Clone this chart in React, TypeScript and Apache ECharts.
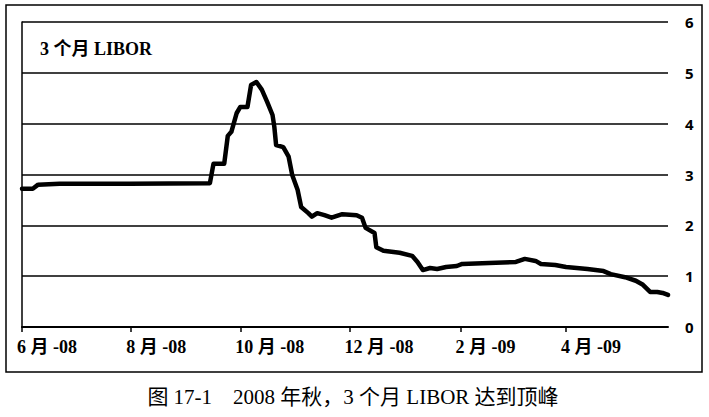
import React, { useEffect, useRef } from "react";
import * as echarts from "echarts";

const dates: string[] = [
  "2008-06-01", "2008-06-07", "2008-06-10", "2008-06-22", "2008-07-31",
  "2008-09-14", "2008-09-16", "2008-09-22", "2008-09-24", "2008-09-26",
  "2008-09-29", "2008-10-01", "2008-10-05", "2008-10-07", "2008-10-10",
  "2008-10-13", "2008-10-16", "2008-10-19", "2008-10-20", "2008-10-21",
  "2008-10-25", "2008-10-28", "2008-10-30", "2008-11-02", "2008-11-04",
  "2008-11-08", "2008-11-10", "2008-11-13", "2008-11-17", "2008-11-21",
  "2008-11-27", "2008-12-05", "2008-12-08", "2008-12-10", "2008-12-15",
  "2008-12-16", "2008-12-20", "2008-12-29", "2009-01-05", "2009-01-08",
  "2009-01-11", "2009-01-15", "2009-01-19", "2009-01-24", "2009-01-30",
  "2009-02-02", "2009-02-17", "2009-03-04", "2009-03-09", "2009-03-15",
  "2009-03-18", "2009-03-26", "2009-04-01", "2009-04-13", "2009-04-22",
  "2009-04-26", "2009-05-04", "2009-05-10", "2009-05-14", "2009-05-18",
  "2009-05-22", "2009-05-25", "2009-05-28",
];

const libor3m: number[] = [
  2.72, 2.72, 2.8, 2.82, 2.82,
  2.83, 3.21, 3.21, 3.76, 3.84,
  4.21, 4.33, 4.33, 4.76, 4.82,
  4.67, 4.43, 4.17, 3.94, 3.58,
  3.54, 3.35, 2.99, 2.7, 2.36,
  2.24, 2.17, 2.24, 2.2, 2.15,
  2.22, 2.2, 2.15, 1.95, 1.85,
  1.57, 1.5, 1.46, 1.4, 1.28,
  1.12, 1.16, 1.14, 1.18, 1.2,
  1.24, 1.26, 1.28, 1.34, 1.3,
  1.24, 1.22, 1.18, 1.14, 1.1,
  1.04, 0.98, 0.91, 0.83, 0.69,
  0.69, 0.67, 0.63,
];

const tickDates: string[] = ["2008-06-01", "2008-08-01", "2008-10-01", "2008-12-01", "2009-02-01", "2009-04-01"];
const tickLabels: string[] = ["6 月 -08", "8 月 -08", "10 月 -08", "12 月 -08", "2 月 -09", "4 月 -09"];
const axisStart = "2008-06-01";
const axisEnd = "2009-05-28";

const titleText = "3 个月 LIBOR";
const captionText = "图 17-1　2008 年秋，3 个月 LIBOR 达到顶峰";

// day number relative to the axis start date
const toDay = (s: string): number => {
  const [y, m, d] = s.split("-").map(Number);
  const [y0, m0, d0] = axisStart.split("-").map(Number);
  return Math.round((Date.UTC(y, m - 1, d) - Date.UTC(y0, m0 - 1, d0)) / 86400000);
};

const SERIF = '"Liberation Serif", "Times New Roman", "Noto Sans CJK SC", serif';
const SANS = '"Open Sans", "Liberation Sans", sans-serif';

export default function App() {
  const ref = useRef<HTMLDivElement>(null);
  useEffect(() => {
    if (!ref.current) return;
    const chart = echarts.init(ref.current, null, { renderer: "svg" });
    const tickDays = tickDates.map(toDay);
    chart.setOption({
      animation: false,
      backgroundColor: "#ffffff",
      grid: { left: 22, right: 41, top: 22, bottom: 90, containLabel: false },
      xAxis: {
        type: "value",
        min: toDay(axisStart),
        max: toDay(axisEnd),
        axisLine: { show: true, onZero: false, lineStyle: { color: "#000", width: 2 } },
        axisTick: {
          show: true,
          length: 5,
          lineStyle: { color: "#000", width: 1.5 },
          customValues: tickDays,
        },
        splitLine: { show: false },
        axisLabel: {
          customValues: tickDays,
          hideOverlap: false,
          showMinLabel: true,
          showMaxLabel: true,
          align: "left",
          margin: 11,
          padding: [0, 0, 0, -5],
          color: "#000",
          fontFamily: SERIF,
          fontWeight: "bold",
          fontSize: 18,
          formatter: (v: number) => {
            const i = tickDays.indexOf(Math.round(v));
            return i >= 0 ? tickLabels[i] : "";
          },
        },
      },
      yAxis: [
        {
          type: "value",
          position: "right",
          min: 0,
          max: 6,
          interval: 1,
          axisLine: { show: false },
          axisTick: { show: false },
          splitLine: { show: true, lineStyle: { color: "#000", width: 1.5 } },
          axisLabel: {
            margin: 17,
            color: "#000",
            fontFamily: SANS,
            fontWeight: "bold",
            fontSize: 15,
          },
        },
        {
          type: "value",
          position: "left",
          min: 0,
          max: 6,
          interval: 1,
          axisLine: { show: true, lineStyle: { color: "#000", width: 1.5 } },
          axisTick: { show: false },
          splitLine: { show: false },
          axisLabel: { show: false },
        },
      ],
      series: [
        {
          type: "line",
          yAxisIndex: 0,
          data: dates.map((d, i) => [toDay(d), libor3m[i]]),
          showSymbol: false,
          smooth: false,
          lineStyle: { color: "#000", width: 4.5, join: "round", cap: "round" },
          z: 5,
        },
      ],
      graphic: [
        {
          type: "rect",
          shape: { x: 6, y: 5, width: 696, height: 367 },
          style: { fill: "none", stroke: "#000", lineWidth: 1.5 },
          silent: true,
        },
        {
          type: "text",
          x: 40,
          y: 49,
          style: {
            text: titleText,
            fill: "#000",
            font: `bold 18px ${SERIF}`,
            verticalAlign: "middle",
            align: "left",
          },
        },
        {
          type: "text",
          x: 353,
          y: 397,
          style: {
            text: captionText,
            fill: "#000",
            font: `21px ${SERIF}`,
            verticalAlign: "middle",
            align: "center",
          },
        },
      ],
    });
    return () => chart.dispose();
  }, []);
  return <div ref={ref} style={{ width: 709, height: 417, position: "absolute", left: 0, top: 0 }} />;
}
